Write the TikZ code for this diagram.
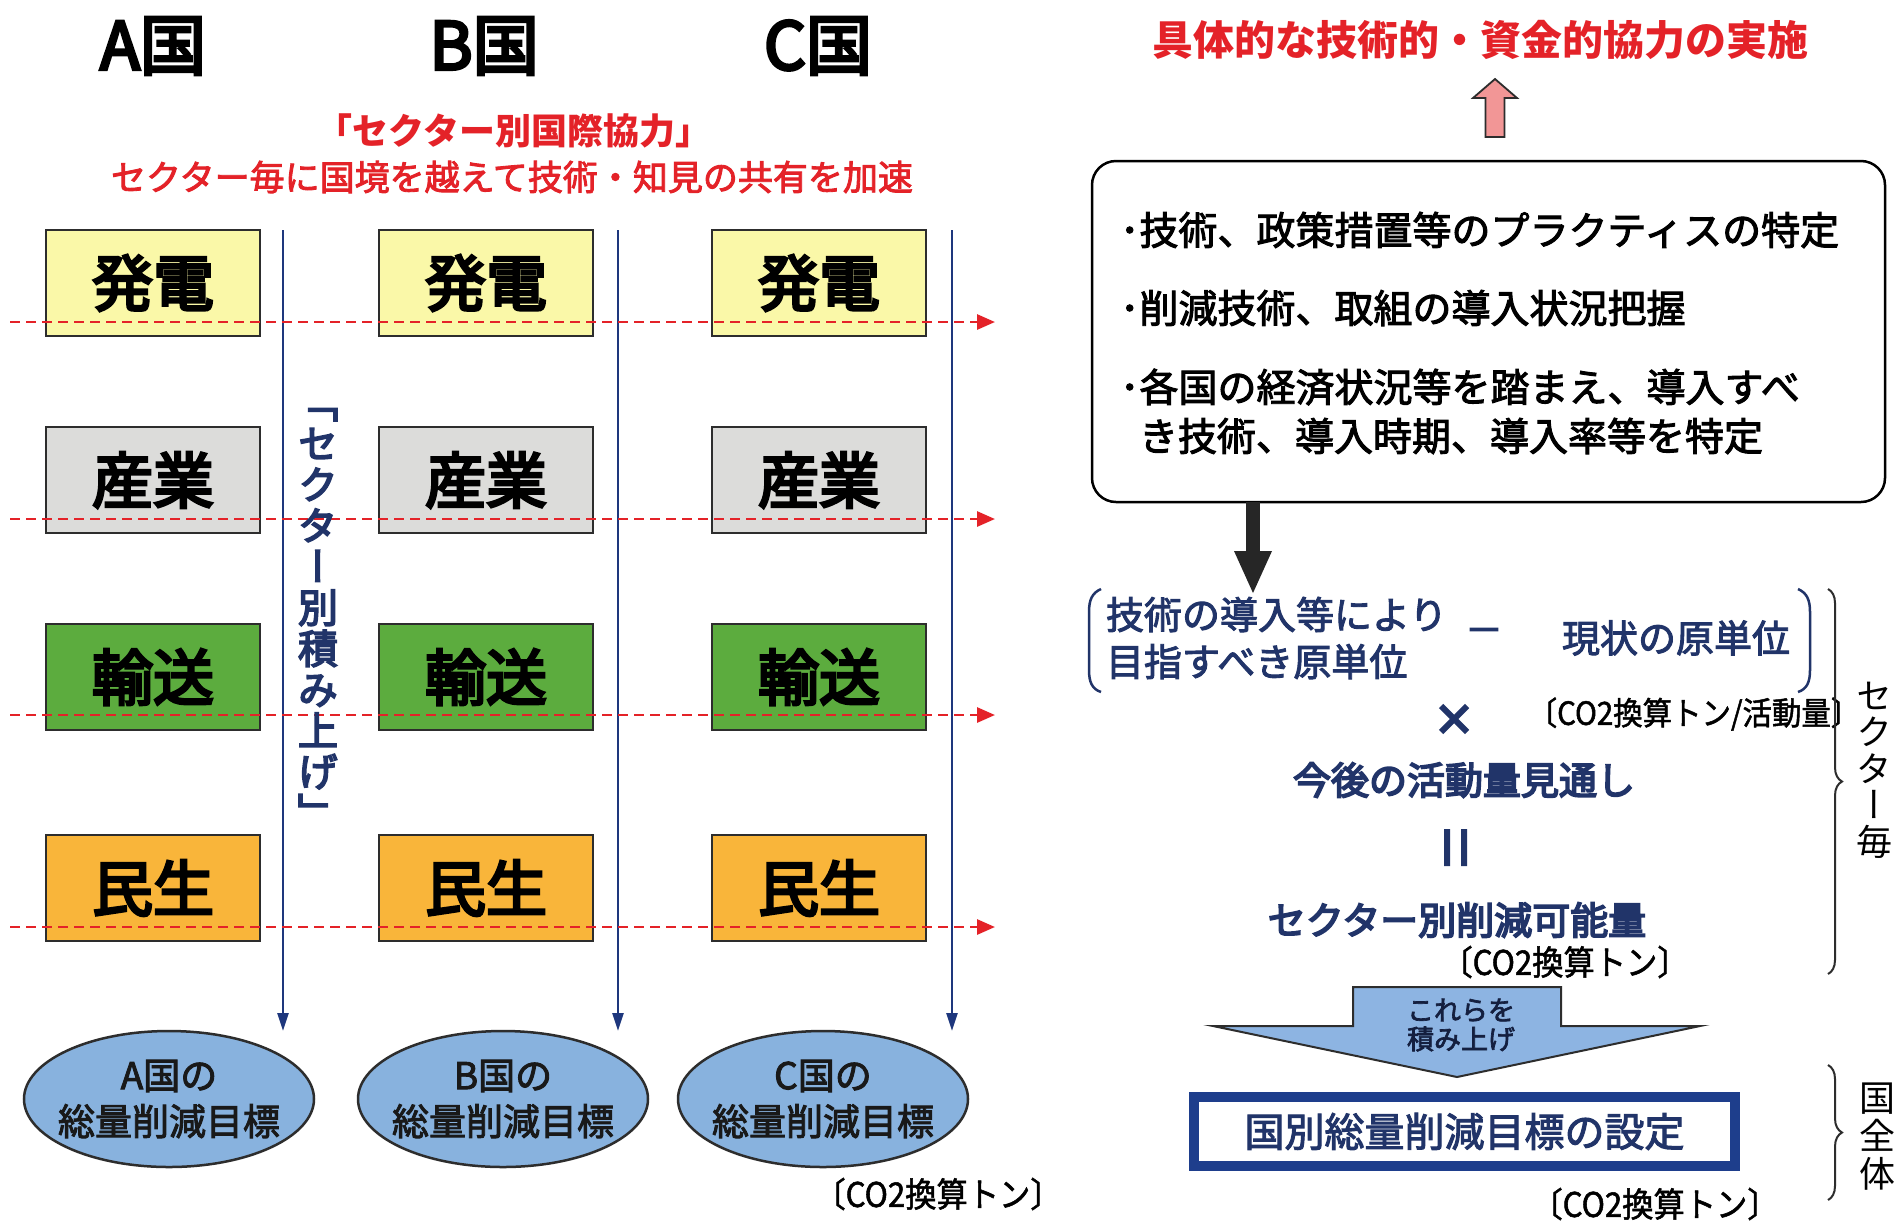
\documentclass[tikz,border=0pt]{standalone}
\usepackage{fontspec}
\setmainfont{Noto Sans CJK JP}
\newfontfamily\vjp[RawFeature=+vert]{Noto Sans CJK JP}
\newfontfamily\vjpm[RawFeature=+vert,FakeBold=4]{Noto Sans CJK JP}
\newfontfamily\medA[FakeBold=2.5]{Noto Sans CJK JP}
\newfontfamily\medB[FakeBold=4.5]{Noto Sans CJK JP}
\newfontfamily\condf[FakeStretch=0.92,FakeBold=1.5]{Noto Sans CJK JP}
\usetikzlibrary{arrows.meta,shapes.geometric,decorations.pathreplacing}
\definecolor{redt}{RGB}{228,34,40}
\definecolor{navyl}{RGB}{30,55,125}
\definecolor{navyt}{RGB}{33,52,105}
\definecolor{navyb}{RGB}{30,62,140}
\definecolor{ylw}{RGB}{250,248,168}
\definecolor{gry}{RGB}{220,220,218}
\definecolor{grn}{RGB}{92,172,62}
\definecolor{org}{RGB}{249,181,58}
\definecolor{ellb}{RGB}{136,178,222}
\definecolor{arrb}{RGB}{141,180,226}
\definecolor{pinkc}{RGB}{242,150,150}
\definecolor{bord}{RGB}{45,45,45}
\begin{document}
\begin{tikzpicture}[x=1pt,y=-1pt,
  every node/.style={inner sep=0pt,outer sep=0pt},
  ctitle/.style={font=\medB\fontsize{66}{66}\selectfont},
  sectorbox/.style={draw=bord,line width=2.5,minimum width=214,minimum height=106,font=\medB\fontsize{61}{61}\selectfont},
  reddash/.style={draw=redt,line width=2.8,dash pattern=on 10pt off 6pt,-{Triangle[length=18pt,width=15pt]}},
  vline/.style={draw=navyl,line width=2.5,-{Triangle[length=18pt,width=11pt]}},
  goalell/.style={ellipse,draw=bord,line width=2.5,fill=ellb,minimum width=290,minimum height=136},
  goaltext/.style={align=center,text=black!90,font=\medA\fontsize{37}{46}\selectfont},
  bullet/.style={anchor=west,font=\medA\fontsize{39}{39}\selectfont},
  navytext/.style={text=navyt,font=\medA\fontsize{38}{47}\selectfont},
  navybold/.style={text=navyt,font=\medB\fontsize{38}{38}\selectfont},
  unit/.style={font=\condf\fontsize{34}{34}\selectfont},
  rbrace/.style={draw=bord,line width=2,decorate,decoration={brace,amplitude=14pt}},
  paren/.style={draw=navyt,line width=2.5}
]
\useasboundingbox (0,0) rectangle (1897,1224);
\fill[white] (0,0) rectangle (1897,1224);

% column titles
\node[ctitle] (ta) at (153,46) {A国};
\node[ctitle] (tb) at (484,46) {B国};
\node[ctitle] (tc) at (818,46) {C国};

% red heading
\node[text=redt,font=\bfseries\fontsize{36}{36}\selectfont] (rh1) at (514,131) {「セクター別国際協力」};
\node[text=redt,font=\medA\fontsize{35}{35}\selectfont] (rh2) at (512,177) {セクター毎に国境を越えて技術・知見の共有を加速};

% sector boxes
\foreach \c/\x in {a/153,b/486,c/819}{
  \node[sectorbox,fill=ylw] (\c1) at (\x,283) {発電};
  \node[sectorbox,fill=gry] (\c2) at (\x,480) {産業};
  \node[sectorbox,fill=grn] (\c3) at (\x,677) {輸送};
  \node[sectorbox,fill=org] (\c4) at (\x,888) {民生};
}

% goal ellipses
\node[goalell] (ea) at (169,1099) {};
\node[goalell] (eb) at (503,1099) {};
\node[goalell] (ec) at (823,1099) {};
\node[goaltext] (eat) at (ea) {A国の\\総量削減目標};
\node[goaltext] (ebt) at (eb) {B国の\\総量削減目標};
\node[goaltext] (ect) at (ec) {C国の\\総量削減目標};

% vertical blue lines
\coordinate (va) at (283,230);
\coordinate (vb) at (618,230);
\coordinate (vc) at (952,230);
\draw[vline] (va) -- (va |- ea.north);
\draw[vline] (vb) -- (vb |- eb.north);
\draw[vline] (vc) -- (vc |- ec.north);

% red dashed lines
\foreach \i/\y in {1/322,2/519,3/715,4/927}{
  \coordinate (rs\i) at (10,\y);
  \coordinate (re\i) at (995,\y);
  \draw[reddash] (rs\i) -- (re\i);
}

% vertical label
\node[text=navyt,align=center,font=\vjpm\fontsize{40}{41}\selectfont] (vt) at (318,618)
  {「\\セ\\ク\\タ\\ー\\別\\積\\み\\上\\げ\\」};

\node[unit] (u1) at (938,1194) {〔CO2換算トン〕};

% ===== right side =====
\node[text=redt,font=\bfseries\fontsize{41}{41}\selectfont] (rt) at (1480,40) {具体的な技術的・資金的協力の実施};
\draw[draw=bord,line width=1.8,fill=pinkc] (1485.5,137) -- (1485.5,98) -- (1473,98) -- (1495,79) -- (1517,98) -- (1504.5,98) -- (1504.5,137) -- cycle;

\node[draw=black,line width=2.5,rounded corners=24,minimum width=793,minimum height=341] (bb) at (1488.5,331.5) {};
\node[bullet] (b1) at (1120,230) {･技術、政策措置等のプラクティスの特定};
\node[bullet] (b2) at (1120,308) {･削減技術、取組の導入状況把握};
\node[bullet] (b3) at (1120,387) {･各国の経済状況等を踏まえ、導入すべ};
\node[bullet] (b4) at (1139,436) {き技術、導入時期、導入率等を特定};

% black arrow
\coordinate (bax) at (1253,0);
\coordinate (bat) at (1253,593);
\draw[line width=14,draw=black!85,-{Triangle[length=42pt,width=38pt,line width=0pt]}] (bb.south -| bax) -- (bat);

% formula
\draw[paren] (1101,589) .. controls (1092,593) and (1089,600) .. (1089,612) -- (1089,670) .. controls (1089,682) and (1092,689) .. (1101,692);
\draw[paren] (1798,589) .. controls (1807,593) and (1810,600) .. (1810,612) -- (1810,670) .. controls (1810,682) and (1807,689) .. (1798,692);
\node[navytext,anchor=west,align=left] (f1) at (1106,638) {技術の導入等により\\目指すべき原単位};
\node[navytext] (fm) at (1484,636) {－};
\node[navytext] (f2) at (1676,638) {現状の原単位};
\node[unit,font=\condf\fontsize{32}{32}\selectfont] (u2) at (1694,714) {〔CO2換算トン/活動量〕};
\draw[draw=navyt,line width=6] (1441,706) -- (1467,732) (1467,706) -- (1441,732);
\node[navybold] (f3) at (1464,780) {今後の活動量見通し};
\fill[navyt] (1444,829) rectangle (1450,866) (1461,829) rectangle (1467,866);
\node[navybold] (f4) at (1457,920) {セクター別削減可能量};
\node[unit] (u3) at (1565,962) {〔CO2換算トン〕};

\draw[rbrace] (1828,589) -- (1828,974);
\node[align=center,font=\vjp\fontsize{36}{36.5}\selectfont] (vs) at (1874,770) {セ\\ク\\タ\\ー\\毎};

% big blue arrow
\draw[draw=bord,line width=2,fill=arrb] (1353,987) -- (1561,987) -- (1561,1026) -- (1700,1026) -- (1457,1077) -- (1213,1026) -- (1353,1026) -- cycle;
\node[align=center,text=navyt!60!black,font=\medA\fontsize{27}{29}\selectfont] (ar) at (1461,1025) {これらを\\積み上げ};

\node[draw=navyb,line width=10,minimum width=541,minimum height=69,text=navyt,font=\medA\fontsize{40}{40}\selectfont] (goal) at (1464.5,1131.5) {国別総量削減目標の設定};
\node[unit] (u4) at (1655,1204) {〔CO2換算トン〕};

\draw[rbrace] (1828,1065) -- (1828,1200);
\node[align=center,font=\vjp\fontsize{36}{38}\selectfont] (vk) at (1877,1137) {国\\全\\体};
\end{tikzpicture}
\end{document}
